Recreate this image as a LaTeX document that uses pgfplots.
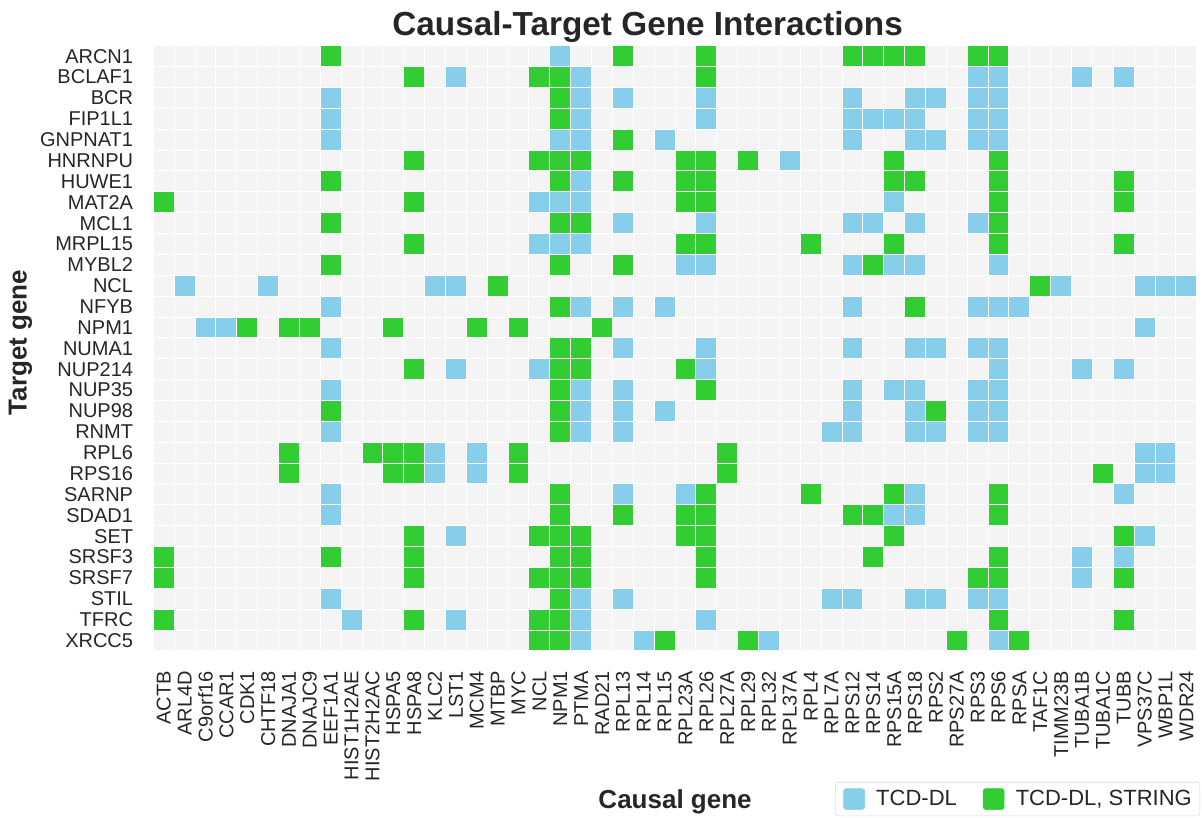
\documentclass[border=0pt]{standalone}
\usepackage{fontspec}
\setmainfont{Liberation Sans}
\usepackage{pgfplots}
\pgfplotsset{compat=1.18}
\usetikzlibrary{calc}
\definecolor{skyblue}{RGB}{135,206,235}
\definecolor{limegreen}{RGB}{50,205,50}
\definecolor{cellbg}{RGB}{244,244,244}
\definecolor{txt}{RGB}{38,38,38}
\begin{document}
\begin{tikzpicture}
\begin{axis}[
  name=ax,
  scale only axis, width=782.6pt, height=453.9pt,
  xmin=-0.5, xmax=49.5, ymin=-0.5, ymax=28.5,
  y dir=reverse,
  axis background/.style={fill=cellbg},
  axis line style={draw=none},
  xtick={0,...,49}, ytick={0,...,28},
  xticklabels={ACTB,ARL4D,C9orf16,CCAR1,CDK1,CHTF18,DNAJA1,DNAJC9,EEF1A1,HIST1H2AE,HIST2H2AC,HSPA5,HSPA8,KLC2,LST1,MCM4,MTBP,MYC,NCL,NPM1,PTMA,RAD21,RPL13,RPL14,RPL15,RPL23A,RPL26,RPL27A,RPL29,RPL32,RPL37A,RPL4,RPL7A,RPS12,RPS14,RPS15A,RPS18,RPS2,RPS27A,RPS3,RPS6,RPSA,TAF1C,TIMM23B,TUBA1B,TUBA1C,TUBB,VPS37C,WBP1L,WDR24},
  yticklabels={ARCN1,BCLAF1,BCR,FIP1L1,GNPNAT1,HNRNPU,HUWE1,MAT2A,MCL1,MRPL15,MYBL2,NCL,NFYB,NPM1,NUMA1,NUP214,NUP35,NUP98,RNMT,RPL6,RPS16,SARNP,SDAD1,SET,SRSF3,SRSF7,STIL,TFRC,XRCC5},
  minor xtick={-0.5,0.5,...,49.5}, minor ytick={-0.5,0.5,...,28.5},
  xminorgrids, yminorgrids,
  minor grid style={white, line width=0.75pt},
  major tick length=0pt, minor tick length=0pt,
  tick style={draw=none},
  xticklabel style={rotate=90, anchor=east, inner sep=0pt, text=txt, font=\fontsize{15}{18}\selectfont},
  yticklabel style={anchor=east, inner sep=0pt, text=txt, font=\fontsize{15}{18}\selectfont},
  xticklabel shift=14.9pt, yticklabel shift=15pt,
  legend image code/.code={\fill[#1] (0pt,-7.875pt) rectangle (15.75pt,7.875pt);},
  legend cell align=left,
  legend style={at={(1.0031,-0.2728)}, anchor=south east, legend columns=2,
    draw=black!15, rounded corners=2pt, fill=white, text=txt,
    inner xsep=6pt, inner ysep=4.5pt,
    font=\fontsize{16.5}{19.8}\selectfont,
    nodes={inner sep=0pt},
    /tikz/every odd column/.append style={column sep=8.5pt},
    /tikz/every even column/.append style={column sep=19.5pt}},
]
% TCD-DL only (blue): (causal index, target index)
\addplot[only marks, mark=square*, mark size=7.825pt, mark options={fill=skyblue, draw=white, line width=0.75pt}, forget plot] coordinates {
(19,0)
(14,1) (20,1) (39,1) (40,1) (44,1) (46,1)
(8,2) (20,2) (22,2) (26,2) (33,2) (36,2) (37,2) (39,2) (40,2)
(8,3) (20,3) (26,3) (33,3) (34,3) (35,3) (36,3) (39,3) (40,3)
(8,4) (19,4) (20,4) (24,4) (33,4) (36,4) (37,4) (39,4) (40,4)
(30,5)
(20,6)
(18,7) (19,7) (20,7) (35,7)
(22,8) (26,8) (33,8) (34,8) (36,8) (39,8)
(18,9) (19,9) (20,9)
(25,10) (26,10) (33,10) (35,10) (36,10) (40,10)
(1,11) (5,11) (13,11) (14,11) (43,11) (47,11) (48,11) (49,11)
(8,12) (20,12) (22,12) (24,12) (33,12) (39,12) (40,12) (41,12)
(2,13) (3,13) (47,13)
(8,14) (22,14) (26,14) (33,14) (36,14) (37,14) (39,14) (40,14)
(14,15) (18,15) (26,15) (40,15) (44,15) (46,15)
(8,16) (20,16) (22,16) (33,16) (35,16) (36,16) (39,16) (40,16)
(20,17) (22,17) (24,17) (33,17) (36,17) (39,17) (40,17)
(8,18) (20,18) (22,18) (32,18) (33,18) (36,18) (37,18) (39,18) (40,18)
(13,19) (15,19) (47,19) (48,19)
(13,20) (15,20) (47,20) (48,20)
(8,21) (22,21) (25,21) (36,21) (46,21)
(8,22) (35,22) (36,22)
(14,23) (47,23)
(44,24) (46,24)
(44,25)
(8,26) (20,26) (22,26) (32,26) (33,26) (36,26) (37,26) (39,26) (40,26)
(9,27) (14,27) (20,27) (26,27)
(20,28) (23,28) (29,28) (40,28)
};
% TCD-DL, STRING (green)
\addplot[only marks, mark=square*, mark size=7.825pt, mark options={fill=limegreen, draw=white, line width=0.75pt}, forget plot] coordinates {
(8,0) (22,0) (26,0) (33,0) (34,0) (35,0) (36,0) (39,0) (40,0)
(12,1) (18,1) (19,1) (26,1)
(19,2)
(19,3)
(22,4)
(12,5) (18,5) (19,5) (20,5) (25,5) (26,5) (28,5) (35,5) (40,5)
(8,6) (19,6) (22,6) (25,6) (26,6) (35,6) (36,6) (40,6) (46,6)
(0,7) (12,7) (25,7) (26,7) (40,7) (46,7)
(8,8) (19,8) (20,8) (40,8)
(12,9) (25,9) (26,9) (31,9) (35,9) (40,9) (46,9)
(8,10) (19,10) (22,10) (34,10)
(16,11) (42,11)
(19,12) (36,12)
(4,13) (6,13) (7,13) (11,13) (15,13) (17,13) (21,13)
(19,14) (20,14)
(12,15) (19,15) (20,15) (25,15)
(19,16) (26,16)
(8,17) (19,17) (37,17)
(19,18)
(6,19) (10,19) (11,19) (12,19) (17,19) (27,19)
(6,20) (11,20) (12,20) (17,20) (27,20) (45,20)
(19,21) (26,21) (31,21) (35,21) (40,21)
(19,22) (22,22) (25,22) (26,22) (33,22) (34,22) (40,22)
(12,23) (18,23) (19,23) (20,23) (25,23) (26,23) (35,23) (46,23)
(0,24) (8,24) (12,24) (19,24) (20,24) (26,24) (34,24) (40,24)
(0,25) (12,25) (18,25) (19,25) (20,25) (26,25) (39,25) (40,25) (46,25)
(19,26)
(0,27) (12,27) (18,27) (19,27) (40,27) (46,27)
(18,28) (19,28) (24,28) (28,28) (38,28) (41,28)
};
\addlegendimage{skyblue}\addlegendentry{TCD-DL}
\addlegendimage{limegreen}\addlegendentry{TCD-DL, STRING}
\end{axis}
\node[font=\bfseries\fontsize{25}{30}\selectfont, anchor=base, text=txt] at ($(ax.north west)+(370.7pt,7.6pt)$) {Causal-Target Gene Interactions};
\node[font=\bfseries\fontsize{19.5}{23}\selectfont, anchor=base, text=txt] at ($(ax.south)+(0pt,-117.8pt)$) {Causal gene};
\node[font=\bfseries\fontsize{19.5}{23}\selectfont, anchor=base, rotate=90, text=txt] at ($(ax.west)+(-95pt,4.4pt)$) {Target gene};
\pgfresetboundingbox
\path ($(ax.north west)+(-115pt,34.3pt)$) rectangle ($(ax.south east)+(3.9pt,-124.6pt)$);
\end{tikzpicture}
\end{document}
